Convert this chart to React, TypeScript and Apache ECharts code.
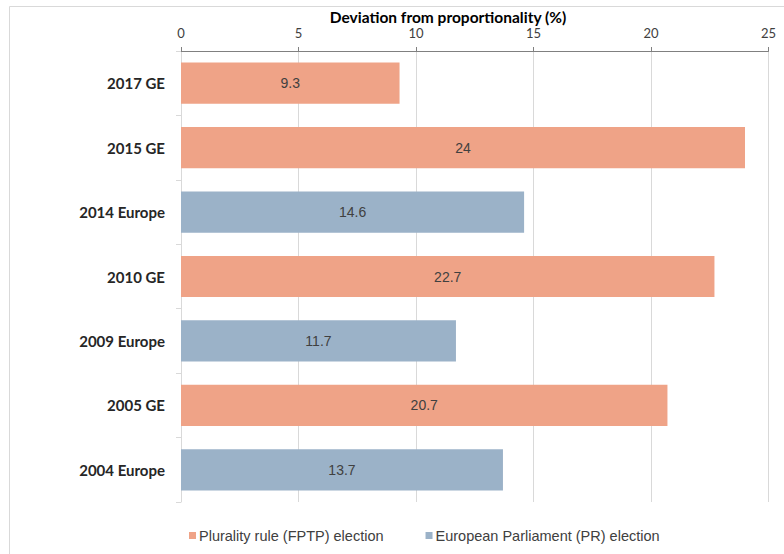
import React, { useEffect, useRef } from "react";
import * as echarts from "echarts";

const categories = ["2017 GE", "2015 GE", "2014 Europe", "2010 GE", "2009 Europe", "2005 GE", "2004 Europe"];
const fptpValues: (number | string)[] = [9.3, 24, "-", 22.7, "-", 20.7, "-"];
const prValues: (number | string)[] = ["-", "-", 14.6, "-", 11.7, "-", 13.7];
const seriesNames = ["Plurality rule (FPTP) election", "European Parliament (PR) election"];
const axisTitle = "Deviation from proportionality (%)";

const FPTP_COLOR = "#EFA387";
const PR_COLOR = "#9BB2C8";

export default function App() {
  const ref = useRef<HTMLDivElement>(null);
  useEffect(() => {
    if (!ref.current) return;
    const chart = echarts.init(ref.current, undefined, { renderer: "svg" });
    const labelCfg = {
      show: true,
      position: "inside",
      color: "#404040",
      fontSize: 14,
      fontFamily: "Liberation Sans, Arial, sans-serif",
    };
    chart.setOption({
      animation: false,
      backgroundColor: "#ffffff",
      grid: { left: 181, right: 15.5, top: 51, bottom: 52, containLabel: false },
      graphic: [
        {
          type: "rect",
          shape: { x: 9.5, y: 6.5, width: 900, height: 700 },
          style: { fill: "none", stroke: "#d9d9d9", lineWidth: 1 },
          silent: true,
          z: -1,
        },
        {
          type: "text",
          x: 448,
          y: 17,
          style: {
            text: axisTitle,
            fill: "#000000",
            font: "bold 15.5px Lato, sans-serif",
            textAlign: "center",
            textVerticalAlign: "middle",
          },
        },
      ],
      legend: {
        bottom: 6,
        left: 184,
        itemWidth: 7,
        itemHeight: 7,
        itemGap: 42,
        icon: "rect",
        textStyle: { color: "#404040", fontSize: 14.5, fontFamily: "Liberation Sans, Arial, sans-serif", padding: [0, 0, 0, -2] },
        data: seriesNames,
      },
      xAxis: {
        type: "value",
        position: "top",
        min: 0,
        max: 25,
        interval: 5,
        axisLine: { show: true, lineStyle: { color: "#808080" } },
        axisTick: { show: true, inside: false, length: 4, lineStyle: { color: "#808080" } },
        axisLabel: { color: "#404040", fontSize: 13, margin: 12, fontFamily: "Lato, sans-serif" },
        splitLine: { show: true, lineStyle: { color: "#d9d9d9" } },
      },
      yAxis: {
        type: "category",
        inverse: true,
        data: categories,
        axisLine: { show: true, lineStyle: { color: "#d9d9d9" } },
        axisTick: { show: true, length: 5, lineStyle: { color: "#d9d9d9" } },
        axisLabel: { color: "#262626", fontSize: 15, fontWeight: "bold", margin: 16, fontFamily: "Lato, sans-serif" },
        splitLine: { show: false },
      },
      series: [
        {
          name: seriesNames[0],
          type: "bar",
          stack: "all",
          data: fptpValues,
          barWidth: "64%",
          itemStyle: { color: FPTP_COLOR },
          label: labelCfg,
        },
        {
          name: seriesNames[1],
          type: "bar",
          stack: "all",
          data: prValues,
          barWidth: "64%",
          itemStyle: { color: PR_COLOR },
          label: labelCfg,
        },
      ],
    });
    return () => chart.dispose();
  }, []);
  return <div ref={ref} style={{ position: "fixed", left: 0, top: 0, width: 784, height: 554 }} />;
}
